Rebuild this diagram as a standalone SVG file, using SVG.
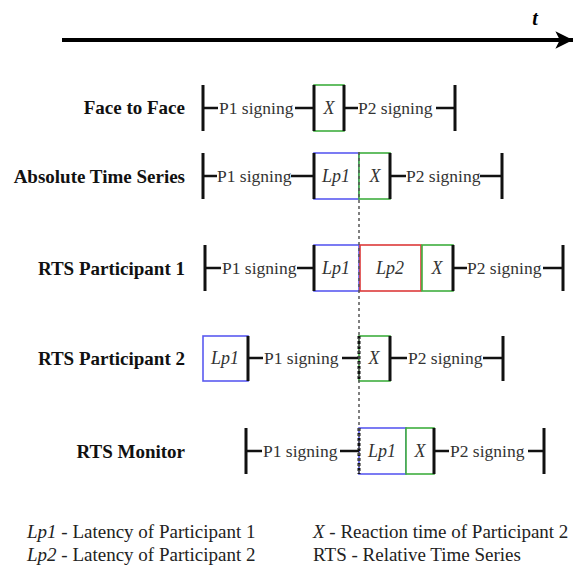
<svg xmlns="http://www.w3.org/2000/svg" width="575" height="570" viewBox="0 0 575 570" font-family="Liberation Serif">
<style>
svg text, svg tspan{font-family:"Liberation Serif","Times New Roman",serif !important}
.lbl{font-weight:bold;font-size:19px;fill:#111;text-anchor:end}
.sg{font-size:17.5px;fill:#333}
.it{font-style:italic;font-size:18px;fill:#333;text-anchor:middle}
.lg{font-size:19px;fill:#222}
.tk{stroke:#111;stroke-width:3;fill:none}
.ln{stroke:#111;stroke-width:2.5;fill:none}
.bb{stroke:#5a5af0;stroke-width:1.6;fill:#fff}
.gb{stroke:#3fae3f;stroke-width:1.6;fill:#fff}
.rb{stroke:#dd3a3a;stroke-width:1.6;fill:#fff}
.dt{stroke:#111;stroke-width:3;stroke-dasharray:3 2;fill:none}
</style>
<defs>
<marker id="ah" viewBox="0 0 10 10" refX="10" refY="5" markerWidth="4.4" markerHeight="4.6" markerUnits="strokeWidth" orient="auto">
<path d="M0,0 L10,5 L0,10 L2.5,5 Z" fill="#000"/>
</marker>
</defs>

<g id="axis">
<line x1="62" y1="40" x2="573" y2="40" stroke="#000" stroke-width="4" marker-end="url(#ah)"/>
<text x="535" y="25" font-family="Liberation Serif" font-weight="bold" font-style="italic" font-size="20" text-anchor="middle" fill="#000">t</text>
</g>

<g id="row-face-to-face">
<text class="lbl" x="185" y="114" font-family="Liberation Serif">Face to Face</text>
<rect class="gb" x="314" y="85" width="30" height="46"/>
<text class="it" x="329" y="114" font-family="Liberation Serif">X</text>
<path class="ln" d="M203,108H218M295,108H314M344,108H358M436,108H455"/>
<path class="tk" d="M203,85V131M314,85V131M344,85V131M455,85V131"/>
<text class="sg" x="219" y="114" font-family="Liberation Serif">P1 signing</text>
<text class="sg" x="358" y="114" font-family="Liberation Serif">P2 signing</text>
</g>

<g id="row-absolute">
<text class="lbl" x="185" y="183" font-family="Liberation Serif">Absolute Time Series</text>
<rect class="bb" x="314" y="153" width="45" height="46"/>
<rect class="gb" x="359" y="153" width="31" height="46"/>
<text class="it" x="336" y="182" font-family="Liberation Serif">Lp1</text>
<text class="it" x="375" y="182" font-family="Liberation Serif">X</text>
<path class="ln" d="M203,176H217M291,176H314M390,176H406M480,176H502"/>
<path class="tk" d="M203,153V199M314,153V199M390,153V199M502,153V199"/>
<text class="sg" x="217" y="182" font-family="Liberation Serif">P1 signing</text>
<text class="sg" x="406" y="182" font-family="Liberation Serif">P2 signing</text>
</g>

<g id="row-rts-p1">
<text class="lbl" x="185" y="275" font-family="Liberation Serif">RTS Participant 1</text>
<rect class="bb" x="314" y="245" width="45" height="46"/>
<rect class="rb" x="360" y="245" width="61" height="46"/>
<rect class="gb" x="422" y="245" width="31" height="46"/>
<text class="it" x="336" y="274" font-family="Liberation Serif">Lp1</text>
<text class="it" x="390" y="274" font-family="Liberation Serif">Lp2</text>
<text class="it" x="437" y="274" font-family="Liberation Serif">X</text>
<path class="ln" d="M205,268H221M297,268H314M453,268H467M543,268H563"/>
<path class="tk" d="M205,245V291M314,245V291M453,245V291M563,245V291"/>
<text class="sg" x="222" y="274" font-family="Liberation Serif">P1 signing</text>
<text class="sg" x="467" y="274" font-family="Liberation Serif">P2 signing</text>
</g>

<g id="row-rts-p2">
<text class="lbl" x="185" y="365" font-family="Liberation Serif">RTS Participant 2</text>
<rect class="bb" x="203" y="336" width="45" height="45"/>
<rect class="gb" x="359" y="336" width="31" height="45"/>
<text class="it" x="225" y="364" font-family="Liberation Serif">Lp1</text>
<text class="it" x="374" y="364" font-family="Liberation Serif">X</text>
<path class="ln" d="M248,358H263M342,358H359M390,358H407M483,358H503"/>
<path class="tk" d="M248,336V381M390,336V381M503,336V381"/>
<path class="dt" d="M359,336V381"/>
<text class="sg" x="264" y="364" font-family="Liberation Serif">P1 signing</text>
<text class="sg" x="408" y="364" font-family="Liberation Serif">P2 signing</text>
</g>

<g id="row-rts-monitor">
<text class="lbl" x="185" y="458" font-family="Liberation Serif">RTS Monitor</text>
<rect class="bb" x="359" y="428" width="47" height="46"/>
<rect class="gb" x="406" y="428" width="28" height="46"/>
<text class="it" x="382" y="457" font-family="Liberation Serif">Lp1</text>
<text class="it" x="420" y="457" font-family="Liberation Serif">X</text>
<path class="ln" d="M246,451H262M340,451H359M434,451H449M528,451H544"/>
<path class="tk" d="M246,428V474M434,428V474M544,428V474"/>
<path class="dt" d="M359,428V474"/>
<text class="sg" x="263" y="457" font-family="Liberation Serif">P1 signing</text>
<text class="sg" x="450" y="457" font-family="Liberation Serif">P2 signing</text>
</g>

<g id="connectors">
<line x1="359" y1="152" x2="359" y2="474" stroke="#555" stroke-width="1.5" stroke-dasharray="3 3"/>
</g>

<g id="legend">
<text class="lg" x="27" y="538" font-family="Liberation Serif"><tspan font-style="italic">Lp1</tspan> - Latency of Participant 1</text>
<text class="lg" x="27" y="561" font-family="Liberation Serif"><tspan font-style="italic">Lp2</tspan> - Latency of Participant 2</text>
<text class="lg" x="313" y="538" font-family="Liberation Serif"><tspan font-style="italic">X</tspan> - Reaction time of Participant 2</text>
<text class="lg" x="313" y="561" font-family="Liberation Serif">RTS - Relative Time Series</text>
</g>
</svg>
